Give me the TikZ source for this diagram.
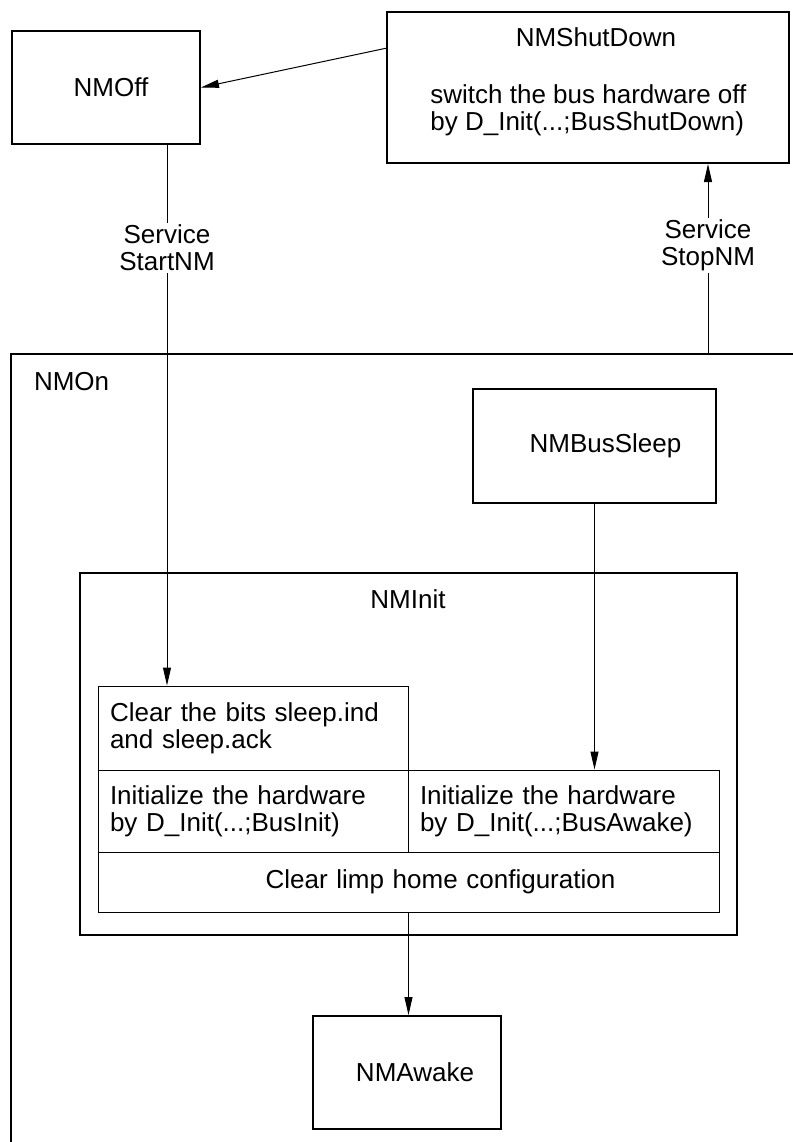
\documentclass[tikz,border=0pt]{standalone}
\usepackage{fontspec}
\setmainfont{Liberation Sans}
\usetikzlibrary{arrows.meta,positioning,calc}

\begin{document}
\begin{tikzpicture}[x=0.5pt, y=-0.5pt,
    font=\fontsize{13}{13.5}\selectfont,
    statebox/.style={draw, line width=1pt, inner sep=0pt},
    cell/.style={draw, line width=0.5pt, inner xsep=6pt, inner ysep=0pt, align=left},
    arr/.style={-{Triangle[length=9pt, width=4pt]}, line width=0.5pt},
    svclbl/.style={fill=white, align=center, inner sep=1pt}]
\useasboundingbox (0,0) rectangle (793,1142);

% NMOn frame (runs off the page)
\draw[line width=1pt] (793,354) -- (11,354) -- (11,1142);
\node[anchor=west] (nmonlbl) at (27,382) {NMOn};

% States outside NMOn
\node[statebox, minimum width=94pt, minimum height=56.5pt] (nmoff) at (106,87.5) {\hspace*{5pt}NMOff};
\node[statebox, minimum width=201pt, minimum height=75.5pt] (shut) at (588,87.5) {};
\node (shuttitle) at (596,37) {NMShutDown};
\node[anchor=west, align=left, inner sep=0pt] (shuttext) at (430,110)
    {switch the bus hardware off\\by D\_Init(...;BusShutDown)};

% States inside NMOn
\node[statebox, minimum width=121.5pt, minimum height=57pt] (bussleep) at (594.5,446) {\hspace*{11pt}NMBusSleep};
\node[statebox, minimum width=328.5pt, minimum height=181pt] (nminit) at (408.5,754) {};
\node (inittitle) at (408,599) {NMInit};
\node[statebox, minimum width=94pt, minimum height=56.5pt] (nmawake) at (407,1072.5) {\hspace*{8pt}NMAwake};

% NMInit actions
\node[cell, text width=143pt, minimum height=42pt] (clear) at (253,728)
    {Clear the bits sleep.ind\\and sleep.ack};
\node[cell, text width=143pt, minimum height=41pt] (initbus) at (253,811)
    {Initialize the hardware\\by D\_Init(...;BusInit)};
\node[cell, text width=143.5pt, minimum height=41pt] (initawake) at (563.5,811)
    {Initialize the hardware\\by D\_Init(...;BusAwake)};
\node[cell, align=center, text width=298.5pt, minimum height=30pt] (limp) at (408.5,882)
    {\hspace*{32pt}Clear limp home configuration};

% Transitions
\coordinate (startx) at (167,0);
\coordinate (stopfoot) at (708,354);
\draw[arr] (shut.169) -- (nmoff.east);
\draw[arr] (nmoff.south -| startx) -- (clear.north -| startx)
    node[svclbl, pos=0.19] (startlbl) {Service\\StartNM};
\draw[arr] (stopfoot) -- (stopfoot |- shut.south)
    node[svclbl, pos=0.57] (stoplbl) {Service\\StopNM};
\draw[arr] (bussleep.south) -- (initawake.north -| bussleep.south);
\draw[arr] (limp.south) -- (limp.south |- nmawake.north);
\end{tikzpicture}
\end{document}
